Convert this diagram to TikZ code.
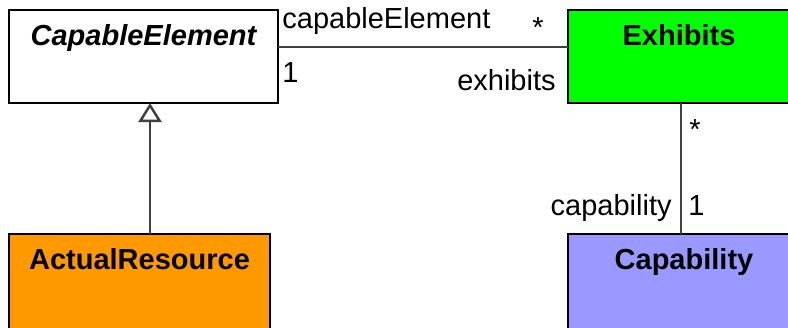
\documentclass[tikz,border=0pt]{standalone}
\usepackage{fontspec}
\setmainfont{Liberation Sans}
\usetikzlibrary{arrows.meta,positioning}
\definecolor{linegray}{RGB}{64,64,64}
\definecolor{exgreen}{RGB}{0,255,0}
\definecolor{resorange}{RGB}{255,153,0}
\definecolor{capblue}{RGB}{153,153,255}

\begin{document}
\begin{tikzpicture}[
      x=0.5pt, y=-0.5pt,
      cls/.style={draw=black, line width=1.4pt, anchor=north west, inner sep=0pt, outer sep=0pt,
        text height=17.5pt, text depth=29pt, font=\fontsize{14.5}{17}\selectfont\bfseries},
      low/.style={text depth=31pt},
      assoc/.style={draw=linegray, line width=1.25pt},
      gen/.style={assoc, -{Triangle[open, length=9.5pt, width=11.5pt]}},
      role/.style={font=\fontsize{14.5}{17}\selectfont, inner sep=0pt}
    ]
      \useasboundingbox (0,0) rectangle (788,327);

      \node[cls, fill=white, minimum width=134.5pt] (ce) at (9,10) {\itshape CapableElement};
      \node[cls, fill=exgreen, minimum width=111pt] (ex) at (568,10) {Exhibits};
      \node[cls, low, fill=resorange, minimum width=130.5pt] (ar) at (9,234) {ActualResource};
      \node[cls, low, fill=capblue, minimum width=116pt] (cap) at (568,234) {Capability};

      \draw[assoc] ([yshift=-18.5pt]ce.north east) -- ([yshift=-18.5pt]ex.north west);
      \node[role, anchor=base west] (ceRole) at (282,28) {capableElement};
      \node[role, anchor=base west] (exMult) at (532,37) {*};
      \node[role, anchor=base west] (ceMult) at (282,82) {1};
      \node[role, anchor=base east] (exRole) at (556,90) {exhibits};

      \draw[assoc] ([xshift=1pt]ex.south) -- ([xshift=1pt]ex.south |- cap.north);
      \node[role, anchor=base west] (capMult) at (689,139) {*};
      \node[role, anchor=base east] (capRole) at (672,215) {capability};
      \node[role, anchor=base west] (capOne) at (688,215) {1};

      \coordinate (gx) at (150,0);
      \draw[gen] (ar.north -| gx) -- (ce.south -| gx);
    \end{tikzpicture}
\end{document}
